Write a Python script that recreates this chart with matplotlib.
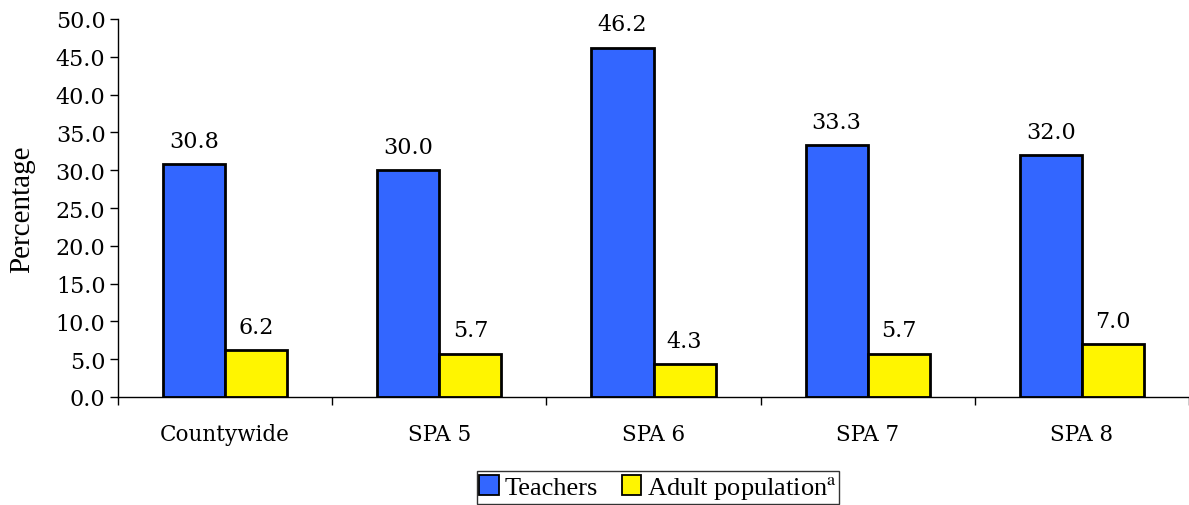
import matplotlib
matplotlib.use("Agg")
import matplotlib.pyplot as plt
import numpy as np
from matplotlib.patches import Patch

# Share of teachers vs adult population, by area
categories = ["Countywide", "SPA 5", "SPA 6", "SPA 7", "SPA 8"]
teachers = [30.8, 30.0, 46.2, 33.3, 32.0]
adults = [6.2, 5.7, 4.3, 5.7, 7.0]
y_ticks = [0, 5, 10, 15, 20, 25, 30, 35, 40, 45, 50]

blue = "#3366FF"
yellow = "#FFF500"
num_font = "DejaVu Serif"
txt_font = "Liberation Serif"

plt.rcParams["mathtext.fontset"] = "stix"

fig = plt.figure(figsize=(11.89, 5.06), dpi=100)
ax = fig.add_axes([118 / 1189, 108 / 506, 1071 / 1189, 378 / 506])

x = np.arange(len(categories))
w = 0.29
b1 = ax.bar(x - w / 2, teachers, w, color=blue, edgecolor="black", linewidth=2)
b2 = ax.bar(x + w / 2, adults, w, color=yellow, edgecolor="black", linewidth=2)

for bars, vals in ((b1, teachers), (b2, adults)):
    for rect, v in zip(bars, vals):
        ax.annotate(f"{v:.1f}", (rect.get_x() + rect.get_width() / 2, v),
                    xytext=(0, 9), textcoords="offset points",
                    ha="center", va="bottom", fontsize=16, family=num_font)

ax.set_ylim(0, 50)
ax.set_xlim(-0.5, -0.5 + 1071 / 215)
ax.set_yticks(y_ticks)
ax.set_yticklabels([f"{t:.1f}" for t in y_ticks], family=num_font, fontsize=16)

# category names centred, tick marks on the group boundaries
ax.set_xticks(x)
ax.set_xticklabels(categories, family=num_font, fontsize=15.5)
ax.tick_params(axis="x", which="major", length=0, pad=19)
ax.set_xticks(np.arange(len(categories) + 1) - 0.5, minor=True)
ax.tick_params(axis="x", which="minor", length=6, width=1, direction="out")
ax.tick_params(axis="y", length=6, width=1, direction="out", pad=3)

ax.spines["top"].set_visible(False)
ax.spines["right"].set_visible(False)
ax.spines["left"].set_linewidth(1)
ax.spines["bottom"].set_linewidth(1)

ax.set_ylabel("Percentage", family=txt_font, fontsize=21, labelpad=15)

handles = [Patch(facecolor=blue, edgecolor="black", linewidth=1.3),
           Patch(facecolor=yellow, edgecolor="black", linewidth=1.3)]
leg = fig.legend(handles, ["Teachers", "Adult population$^{\\mathrm{a}}$"],
                 loc="lower center", bbox_to_anchor=(658 / 1189, 0.0),
                 ncol=2, frameon=True, fancybox=False, edgecolor="black",
                 prop={"family": txt_font, "size": 19},
                 handlelength=0.75, handleheight=0.75, handletextpad=0.2,
                 columnspacing=0.9, borderpad=0.1, borderaxespad=0.05)
leg.get_frame().set_linewidth(1)

fig.savefig("out.png", dpi=100)
